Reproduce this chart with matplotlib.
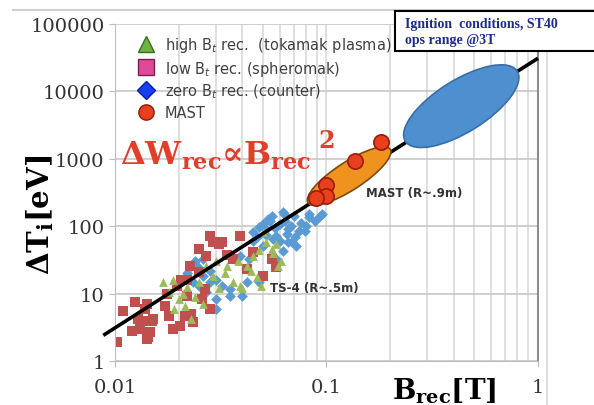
import matplotlib
matplotlib.use("Agg")
import matplotlib.pyplot as plt
from matplotlib.lines import Line2D
from matplotlib.patches import Ellipse, Rectangle
from matplotlib import transforms

# ---- data ----
low_B = [0.0102, 0.0109, 0.0124, 0.012, 0.0141, 0.014, 0.0151, 0.0139, 0.0131, 0.0146,
         0.0172, 0.0188, 0.0202, 0.018, 0.0214, 0.023, 0.0176, 0.0196, 0.0206, 0.028,
         0.029, 0.031, 0.034, 0.039, 0.036, 0.042, 0.028, 0.025, 0.027, 0.045,
         0.055, 0.058, 0.05, 0.0226, 0.032, 0.025, 0.022, 0.022, 0.0141, 0.0128,
         0.015, 0.0143, 0.0233, 0.0266, 0.0257]
low_T = [1.9, 5.5, 7.5, 2.8, 2.1, 3.9, 4.2, 6, 3, 2.7,
         6.5, 3, 3.3, 4.7, 4.7, 5, 10, 13, 16, 72,
         58, 55, 38, 72, 33, 23, 6, 21, 36, 41,
         33, 25, 18, 26, 58, 46, 16, 9.2, 7, 4.2,
         3.9, 2.3, 3.8, 11.7, 8.3]

high_B = [0.0168, 0.0188, 0.018, 0.020, 0.019, 0.0214, 0.0218, 0.025, 0.029, 0.034,
          0.036, 0.039, 0.042, 0.047, 0.05, 0.055, 0.059, 0.061, 0.052, 0.045,
          0.027, 0.023, 0.031, 0.049, 0.021, 0.024, 0.033, 0.038, 0.044, 0.056,
          0.026, 0.03, 0.04, 0.048, 0.058]
high_T = [15, 16, 10.6, 8.3, 6, 6.5, 12.5, 15, 18, 26,
          15, 13, 26, 17.6, 82, 46, 26, 30, 58, 36,
          26, 4.2, 12, 13, 10, 9, 20, 30, 22, 40,
          7, 30, 12, 45, 55]

zero_B = [0.0243, 0.026, 0.025, 0.027, 0.0233, 0.028, 0.030, 0.035, 0.040, 0.042,
          0.030, 0.039, 0.045, 0.05, 0.055, 0.062, 0.058, 0.066, 0.069, 0.054,
          0.06, 0.083, 0.093, 0.065, 0.066, 0.048, 0.074, 0.056, 0.062, 0.072,
          0.083, 0.095, 0.079, 0.05, 0.058, 0.043, 0.048, 0.03, 0.026, 0.023,
          0.032, 0.035, 0.022, 0.024, 0.028, 0.052, 0.064, 0.07, 0.076, 0.045,
          0.052, 0.06, 0.068, 0.088, 0.057, 0.063, 0.071, 0.047, 0.053, 0.08]
zero_T = [26, 18, 13, 10.6, 15, 15, 8.3, 11.7, 9.2, 15,
          6, 36, 82, 108, 141, 163, 72, 90, 58, 120,
          108, 137, 141, 76, 58, 97, 85, 65, 43, 50,
          150, 150, 85, 50, 33, 33, 15, 16, 33, 26,
          13, 9.2, 20, 30, 22, 90, 120, 140, 110, 60,
          75, 60, 100, 120, 95, 150, 70, 70, 130, 100]

mast_B = [0.181, 0.137, 0.099, 0.1, 0.0897]
mast_T = [1775, 927, 409, 281, 262]

fit_B = [0.0088, 1.0]
fit_T = [2.4, 31000]

fig = plt.figure(figsize=(5.94, 4.06), dpi=100)
ax = fig.add_axes([0.1936, 0.1084, 0.712, 0.83])
ax.set_xscale("log")
ax.set_yscale("log")
ax.set_xlim(0.01, 1)
ax.set_ylim(1, 1e5)

ax.grid(True, which="both", axis="x", color="#d6d6d6", lw=1.1)
ax.grid(True, which="major", axis="y", color="#c4c4c4", lw=1.1)
ax.set_axisbelow(True)
for s in ax.spines.values():
    s.set_color("#bdbdbd")
ax.spines["right"].set_color("#8c8c8c")
ax.spines["right"].set_linewidth(1.5)
ax.spines["top"].set_visible(False)

ax.set_xticks([0.01, 0.1, 1])
ax.set_xticklabels(["0.01", "0.1", "1"])
ax.set_yticks([1, 10, 100, 1000, 10000, 100000])
ax.set_yticklabels(["1", "10", "100", "1000", "10000", "100000"])
ax.tick_params(which="major", length=4, color="#bdbdbd", labelsize=14,
               labelcolor="#333333")
ax.tick_params(axis="x", pad=8)
ax.tick_params(which="minor", length=0)
for lab in ax.get_xticklabels() + ax.get_yticklabels():
    lab.set_family("DejaVu Serif")
ax.yaxis.set_minor_locator(matplotlib.ticker.NullLocator())

ax.scatter(zero_B, zero_T, marker="D", s=30, color="#5b9bd5", lw=0, zorder=2)
ax.scatter(low_B, low_T, marker="s", s=42, color="#c0504d", lw=0, zorder=2)
ax.scatter(high_B, high_T, marker="^", s=40, color="#9bbb59", lw=0, zorder=2)

ax.plot(fit_B, fit_T, color="black", lw=2.6, zorder=3, clip_on=False,
        solid_capstyle="butt")


def blob(cx, cy, w, h, ang, **kw):
    tr = fig.dpi_scale_trans + transforms.ScaledTranslation(cx, cy, ax.transData)
    ax.add_patch(Ellipse((0, 0), w, h, angle=ang, transform=tr, **kw))


blob(0.434, 6040, 1.32, 0.52, 32, fc="#4e8fd0", ec="#3a6ea5", lw=1.2, zorder=4)
blob(0.128, 556, 0.98, 0.28, 33, fc="#f0921e", ec="#7a4a10", lw=1.2, zorder=4)

ax.plot(mast_B, mast_T, "o", ms=11, mfc="#e8401c", mec="#9a1c0c", mew=1.2,
        zorder=5, ls="none")

ax.text(0.1545, 321, "MAST (R~.9m)", fontsize=8.5, weight="bold", color="#333333",
        ha="left", va="center", zorder=6)
ax.text(0.0538, 12.5, "TS-4 (R~.5m)", fontsize=8.5, weight="bold", color="#333333",
        ha="left", va="center", zorder=6)

red_kw = dict(transform=ax.transAxes, weight="bold", color="#e0402a",
              family=["DejaVu Serif", "DejaVu Sans"], math_fontfamily="dejavuserif",
              ha="left", va="baseline", zorder=6)
ax.text(0.012, 0.585, r"ΔW$_{\mathbf{rec}}$∝B$_{\mathbf{rec}}$", fontsize=23, **red_kw)
ax.text(0.482, 0.635, "2", fontsize=17, **red_kw)

handles = [
    Line2D([], [], marker="^", ls="none", ms=11, mfc="#6db33f", mec="#3d6b1f"),
    Line2D([], [], marker="s", ls="none", ms=11, mfc="#e0489a", mec="#7a2050"),
    Line2D([], [], marker="D", ls="none", ms=9, mfc="#1640f0", mec="#0a20a0"),
    Line2D([], [], marker="o", ls="none", ms=11, mfc="#e8401c", mec="#8a1c0c"),
]
labels = [r"high B$_t$ rec.  (tokamak plasma)", r"low B$_t$ rec. (spheromak)",
          r"zero B$_t$ rec. (counter)", "MAST"]
leg = ax.legend(handles, labels, loc="upper left", bbox_to_anchor=(0.0556, 0.967),
                frameon=False, fontsize=10.5, borderpad=0, borderaxespad=0,
                handlelength=1.0, handletextpad=0.8, labelspacing=0.3)
for t in leg.get_texts():
    t.set_color("#404040")
leg.set_zorder(6)

# ignition box
fig.add_artist(Rectangle((395 / 594, 1 - 52 / 406), 0.4, 40 / 406,
                         transform=fig.transFigure, fc="white", ec="black",
                         lw=1.5, zorder=10))
fig.text(405 / 594, 1 - 28 / 406, "Ignition  conditions, ST40", fontsize=10,
         family="Liberation Serif", weight="bold", color="#1c2c8c", zorder=11)
fig.text(405 / 594, 1 - 44 / 406, "ops range @3T", fontsize=10,
         family="Liberation Serif", weight="bold", color="#1c2c8c", zorder=11)

# axis titles
fig.text(392 / 594, 6 / 406, r"B$_{\mathbf{rec}}$[T]", fontsize=20, weight="bold",
         family="DejaVu Serif", math_fontfamily="dejavuserif", ha="left",
         va="baseline")
fig.text(40 / 594, 1 - 215 / 406, r"ΔT$_{\mathbf{i}}$[eV]", fontsize=21,
         weight="bold", family="DejaVu Serif", math_fontfamily="dejavuserif",
         rotation=90, ha="center", va="center")

# slide frame lines
fig.add_artist(Line2D([13 / 594, 1], [1 - 11 / 406, 1 - 11 / 406],
                      transform=fig.transFigure, color="#cfcfcf", lw=1.5))
fig.add_artist(Line2D([547 / 594, 547 / 594], [0, 1 - 52 / 406],
                      transform=fig.transFigure, color="#d9d9d9", lw=1.2))

fig.savefig("out.png", dpi=100)
